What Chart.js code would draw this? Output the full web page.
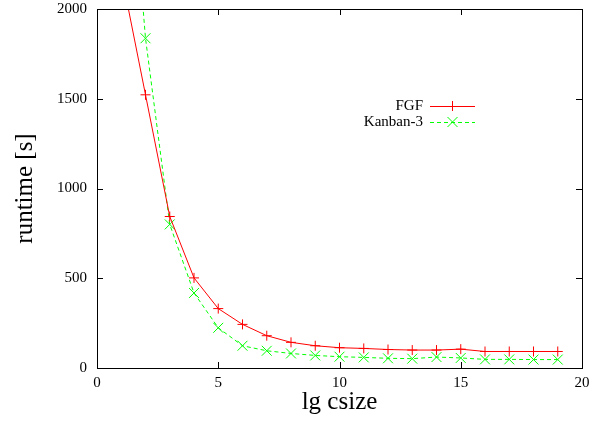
<!DOCTYPE html>
<html>
<head>
<meta charset="utf-8">
<script src="https://cdn.jsdelivr.net/npm/chart.js@4"></script>
<style>
  html, body { margin: 0; padding: 0; background: #fff; }
  #wrap { width: 600px; height: 421px; }
</style>
</head>
<body>
<div id="wrap"><canvas id="myChart" width="600" height="421"></canvas></div>
<script>
// lg csize values and runtimes
const lgCsize = [1, 2, 3, 4, 5, 6, 7, 8, 9, 10, 11, 12, 13, 14, 15, 16, 17, 18, 19];
const fgf = [2200, 1522, 844, 502, 331, 243, 180, 143, 124, 113, 109, 103, 100, 100, 105, 92, 92, 92, 92];
const kanban3 = [3500, 1837, 800, 418, 224, 124, 96, 81, 70, 63, 59, 54, 52, 61, 56, 48, 48, 47, 47];
const xTicks = [0, 5, 10, 15, 20];
const yTicks = [0, 500, 1000, 1500, 2000];

const serif = "'Liberation Serif', 'DejaVu Serif', serif";

// gnuplot style frame with inward ticks on all sides, plus the inside key
const framePlugin = {
  id: 'frame',
  afterDraw(chart) {
    const c = chart.ctx;
    const a = chart.chartArea;
    const xs = chart.scales.x, ys = chart.scales.y;
    c.save();
    c.strokeStyle = '#000';
    c.lineWidth = 1;
    c.strokeRect(a.left + 0.5, a.top + 0.5, a.right - a.left, a.bottom - a.top);
    c.beginPath();
    xTicks.forEach(v => {
      const px = Math.round(xs.getPixelForValue(v)) + 0.5;
      c.moveTo(px, a.bottom); c.lineTo(px, a.bottom - 6);
      c.moveTo(px, a.top); c.lineTo(px, a.top + 6);
    });
    yTicks.forEach(v => {
      const py = Math.round(ys.getPixelForValue(v)) + 0.5;
      c.moveTo(a.left, py); c.lineTo(a.left + 6, py);
      c.moveTo(a.right, py); c.lineTo(a.right - 6, py);
    });
    c.stroke();

    // key
    c.font = '15px ' + serif;
    c.textAlign = 'right';
    c.textBaseline = 'middle';
    chart.data.datasets.forEach((ds, i) => {
      const y = 106 + i * 16;
      c.fillStyle = '#000';
      c.fillText(ds.label, 423, y);
      c.strokeStyle = ds.borderColor;
      c.lineWidth = 1;
      c.setLineDash(ds.borderDash || []);
      c.beginPath();
      c.moveTo(430, y + 0.5); c.lineTo(475, y + 0.5);
      c.stroke();
      c.setLineDash([]);
      c.beginPath();
      const r = 5, mx = 452.5;
      if (ds.pointStyle === 'cross') {
        c.moveTo(mx - r, y + 0.5); c.lineTo(mx + r, y + 0.5);
        c.moveTo(mx, y - r); c.lineTo(mx, y + r);
      } else {
        c.moveTo(mx - r, y - r); c.lineTo(mx + r, y + r);
        c.moveTo(mx - r, y + r); c.lineTo(mx + r, y - r);
      }
      c.stroke();
    });
    c.restore();
  }
};

const ctx = document.querySelector('#myChart').getContext('2d');
const chart = new Chart(ctx, {
  type: 'line',
  data: {
    datasets: [
      {
        label: 'FGF',
        data: lgCsize.map((x, i) => ({ x: x, y: fgf[i] })),
        borderColor: '#ff0000',
        backgroundColor: '#ff0000',
        borderWidth: 1,
        pointStyle: 'cross',
        pointRadius: 5,
        pointBorderWidth: 1,
        tension: 0
      },
      {
        label: 'Kanban-3',
        data: lgCsize.map((x, i) => ({ x: x, y: kanban3[i] })),
        borderColor: '#00ff00',
        backgroundColor: '#00ff00',
        borderWidth: 1,
        borderDash: [4, 3],
        pointStyle: 'crossRot',
        pointRadius: 7,
        pointBorderWidth: 1,
        tension: 0
      }
    ]
  },
  options: {
    responsive: false,
    animation: false,
    layout: { padding: { top: 9, right: 18, left: 0, bottom: 0 } },
    plugins: {
      legend: { display: false },
      tooltip: { enabled: false }
    },
    scales: {
      x: {
        type: 'linear',
        min: 0,
        max: 20,
        afterFit: s => { s.height = 53; s.paddingLeft = 0; s.paddingRight = 0; },
        grid: { display: false, drawTicks: false },
        border: { display: false },
        afterBuildTicks: s => { s.ticks = xTicks.map(v => ({ value: v })); },
        ticks: { padding: 6, color: '#000', font: { family: serif, size: 15 }, callback: v => String(v) },
        title: {
          display: true,
          text: 'lg csize',
          color: '#000',
          padding: { top: 0 },
          font: { family: serif, size: 25 }
        }
      },
      y: {
        min: 0,
        max: 2000,
        afterFit: s => { s.width = 97; s.paddingTop = 0; s.paddingBottom = 0; },
        grid: { display: false, drawTicks: false },
        border: { display: false },
        afterBuildTicks: s => { s.ticks = yTicks.map(v => ({ value: v })); },
        ticks: { padding: 10, color: '#000', font: { family: serif, size: 15 }, callback: v => String(v) },
        title: {
          display: true,
          text: 'runtime [s]',
          color: '#000',
          padding: { top: 10, bottom: 0 },
          font: { family: serif, size: 25 }
        }
      }
    }
  },
  plugins: [framePlugin]
});
</script>
</body>
</html>
